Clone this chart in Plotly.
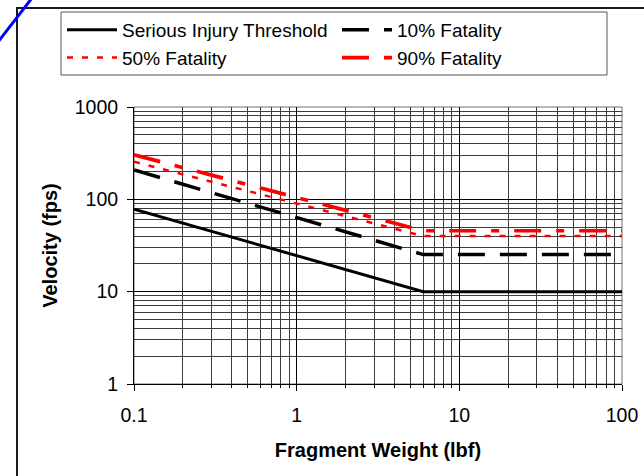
import plotly.graph_objects as go

# ---- data ----
weight = [0.1, 6, 100]
serious = [78, 10, 10]
fatal10 = [208, 25.2, 25.2]
fatal50 = [255, 40, 40]
fatal90 = [304, 45.7, 45.7]

x_tickvals = [0.1, 1, 10, 100]
x_ticktext = ["0.1", "1", "10", "100"]
y_tickvals = [1, 10, 100, 1000]
y_ticktext = ["1", "10", "100", "1000"]

minor_x = [m * d for d in [0.1, 1, 10] for m in range(2, 10)]
minor_y = [m * d for d in [1, 10, 100] for m in range(2, 10)]

FONT = "Liberation Sans, Arial, sans-serif"

fig = go.Figure()
fig.add_trace(go.Scatter(x=weight, y=serious, mode="lines", name="Serious Injury Threshold",
                         line=dict(color="black", width=3)))
fig.add_trace(go.Scatter(x=weight, y=fatal10, mode="lines", name="10% Fatality",
                         line=dict(color="black", width=3.5, dash="27px,15px")))
fig.add_trace(go.Scatter(x=weight, y=fatal50, mode="lines", name="50% Fatality",
                         line=dict(color="#ff0000", width=2.5, dash="6px,9px")))
fig.add_trace(go.Scatter(x=weight, y=fatal90, mode="lines", name="90% Fatality",
                         line=dict(color="#ff0000", width=3.7, dash="27px,15px,8px,15px")))

W, H = 644, 476
L, R, T, B = 134, 622, 107, 384

def px_x(p):
    return (p - L) / (R - L)

def px_y(p):
    return (B - p) / (B - T)

fig.update_layout(
    width=W, height=H,
    margin=dict(l=L, r=W - R, t=T, b=H - B, autoexpand=False),
    paper_bgcolor="white", plot_bgcolor="white",
    font=dict(family=FONT, size=19, color="black"),
    showlegend=True,
    legend=dict(orientation="h", xref="paper", yref="paper",
                x=px_x(62), y=px_y(11), xanchor="left", yanchor="top",
                bgcolor="rgba(0,0,0,0)", borderwidth=0,
                font=dict(family=FONT, size=19, color="black"),
                itemwidth=50, entrywidth=210, entrywidthmode="pixels",
                traceorder="normal"),
    xaxis=dict(type="log", range=[-1, 2], tickvals=x_tickvals, ticktext=x_ticktext,
               showline=True, linecolor="black", linewidth=1,
               ticks="outside", ticklen=6, tickcolor="black",
               showgrid=True, gridcolor="black", gridwidth=1, zeroline=False,
               minor=dict(tickvals=minor_x, ticks="outside", ticklen=3, tickcolor="black",
                          showgrid=True, gridcolor="#3c3c3c", gridwidth=1),
               tickfont=dict(family=FONT, size=19.5), ticklabelstandoff=8,
               title=dict(text="<b>Fragment Weight (lbf)</b>", font=dict(family=FONT, size=20),
                          standoff=17)),
    yaxis=dict(type="log", range=[0, 3], tickvals=y_tickvals, ticktext=y_ticktext,
               showline=True, linecolor="black", linewidth=1,
               ticks="outside", ticklen=6, tickcolor="black",
               showgrid=True, gridcolor="black", gridwidth=1, zeroline=False,
               minor=dict(tickvals=minor_y, ticks="", showgrid=True, gridcolor="#3c3c3c", gridwidth=1),
               tickfont=dict(family=FONT, size=19.5), ticklabelstandoff=5,
               title=dict(text="<b>Velocity (fps)</b>", font=dict(family=FONT, size=20),
                          standoff=11)),
    shapes=[
        # gray border on top/right of plot area
        dict(type="rect", xref="paper", yref="paper", x0=0, y0=0, x1=1, y1=1,
             line=dict(color="#707070", width=1), layer="below"),
        # outer chart frame
        dict(type="rect", xref="paper", yref="paper",
             x0=px_x(17), y0=px_y(520), x1=px_x(700), y1=px_y(8),
             line=dict(color="#1a1a1a", width=2)),
        # legend box
        dict(type="rect", xref="paper", yref="paper",
             x0=px_x(61), y0=px_y(75), x1=px_x(607), y1=px_y(12),
             line=dict(color="#555555", width=1), fillcolor="white"),
        # blue stray line in the corner
        dict(type="line", xref="paper", yref="paper",
             x0=px_x(-2), y0=px_y(42), x1=px_x(32), y1=px_y(-2),
             line=dict(color="#0000ff", width=3)),
    ],
)

fig.write_html("out.html")
